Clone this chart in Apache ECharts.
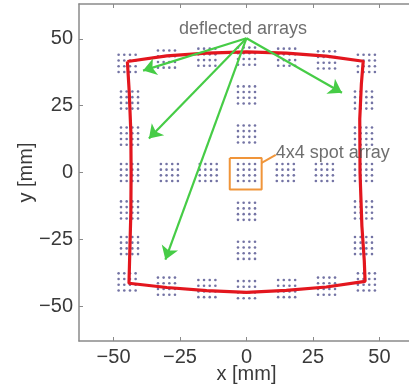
<!DOCTYPE html>
<html>
<head>
<meta charset="utf-8">
<script src="https://cdn.jsdelivr.net/npm/echarts@6/dist/echarts.min.js"></script>
<style>
  html, body { margin: 0; padding: 0; background: #fff; }
  #chart { width: 409px; height: 386px; }
</style>
</head>
<body>
<div id="chart"></div>
<script>
  // array centres [x, y] in mm
  const arrayCenters = [
    [-44.9, 40.8], [-30.1, 42.4], [-14.9, 43.1], [0, 43.5], [15.1, 43.1], [30.1, 42.1], [45.1, 40.8],
    [-44.0, 27.1], [-44.0, 13.6], [-44.0, 0], [-44.0, -14.0], [-44.0, -27.3],
    [44.0, 27.1], [44.0, 13.6], [44.0, 0], [44.0, -14.0], [44.0, -27.3],
    [0, 29.0], [0, 14.4], [0, 0], [0, -14.5], [0, -29.1],
    [-29.0, 0], [-14.4, 0], [14.6, 0], [29.3, 0],
    [-44.9, -40.9], [-30.1, -42.5], [-14.9, -43.4], [0, -43.8], [15.1, -43.4], [30.1, -42.5], [45.1, -40.9]
  ];
  // 4x4 spot offsets inside one array (mm)
  const spotOffsets = [-3.2, -1.07, 1.07, 3.2];

  // red outline through the outer spots
  const outline = [
    [-44.8, 41.5], [-30, 43.6], [-15, 44.6], [0, 45.1], [15, 44.6], [30, 43.5], [43.9, 41.6],
    [43.2, 33], [42.6, 20], [42.7, 0], [43.4, -20], [44.3, -33], [44.6, -40.7],
    [30, -42.8], [15, -44.1], [0, -44.8], [-15, -44.2], [-30, -43], [-44.2, -41.4],
    [-43.9, -30], [-43.5, -15], [-43.4, 0], [-43.5, 15], [-44.1, 30], [-44.8, 41.5]
  ];

  const arrowStart = [0, 50.2];
  const arrowEnds = [[-38.9, 38.1], [-36.7, 12.7], [-30.5, -32.6], [35.9, 29.8]];

  const spotBox = [[-6.3, 5.4], [5.7, 5.4], [5.7, -6.4], [-6.3, -6.4], [-6.3, 5.4]];
  const boxLeader = [[5.7, 3.6], [11.0, 6.6]];

  const tickValues = [-50, -25, 0, 25, 50];

  const spots = [];
  arrayCenters.forEach(function (c) {
    spotOffsets.forEach(function (dy) {
      spotOffsets.forEach(function (dx) {
        spots.push([c[0] + dx, c[1] + dy]);
      });
    });
  });

  const fmt = function (v) { return String(v).replace('-', '\u2212'); };
  const labelFont = { fontFamily: 'Liberation Sans, Arial, sans-serif', fontSize: 20, color: '#3a3a3a' };
  const axisLineStyle = { onZero: false, lineStyle: { color: '#8a8a8a', width: 1.5 } };

  const chart = echarts.init(document.getElementById('chart'));
  chart.setOption({
    animation: false,
    grid: { left: 79, top: 4, width: 335, height: 337, outerBoundsMode: 'none', containLabel: false },
    xAxis: [{
      type: 'value', min: -63, max: 63, position: 'bottom',
      name: 'x [mm]', nameLocation: 'middle', nameGap: 23, nameMoveOverlap: false,
      nameTextStyle: labelFont,
      axisLine: axisLineStyle,
      axisTick: { inside: true, length: 4, customValues: tickValues, lineStyle: { color: '#8a8a8a' } },
      axisLabel: Object.assign({ customValues: tickValues, formatter: fmt, margin: 6 }, labelFont),
      splitLine: { show: false }
    }, {
      type: 'value', min: -63, max: 63, position: 'top',
      axisLine: axisLineStyle,
      axisTick: { inside: true, length: 4, customValues: tickValues, lineStyle: { color: '#8a8a8a' } },
      axisLabel: { show: false },
      splitLine: { show: false }
    }],
    yAxis: {
      type: 'value', min: -63, max: 63, position: 'left',
      name: 'y [mm]', nameLocation: 'middle', nameGap: 43, nameRotate: 90, nameMoveOverlap: false,
      nameTextStyle: labelFont,
      axisLine: axisLineStyle,
      axisTick: { inside: true, length: 4, customValues: tickValues, lineStyle: { color: '#8a8a8a' } },
      axisLabel: Object.assign({ customValues: tickValues, formatter: fmt, margin: 6 }, labelFont),
      splitLine: { show: false }
    },
    series: [{
      type: 'scatter',
      data: spots,
      symbolSize: 2.6,
      itemStyle: { color: '#5a5a94', opacity: 0.85 },
      silent: true
    }, {
      type: 'line',
      data: outline,
      symbol: 'none',
      lineStyle: { color: '#e3161e', width: 3.2 },
      silent: true
    }, {
      type: 'line',
      data: spotBox,
      symbol: 'none',
      lineStyle: { color: '#f0953a', width: 2 },
      silent: true
    }, {
      type: 'line',
      data: boxLeader,
      symbol: 'none',
      lineStyle: { color: '#f0953a', width: 2 },
      silent: true
    }, {
      type: 'lines',
      coordinateSystem: 'cartesian2d',
      data: arrowEnds.map(function (e) { return { coords: [arrowStart, e] }; }),
      symbol: ['none', 'arrow'],
      symbolSize: [9, 13],
      lineStyle: { color: '#46cc46', width: 2.2, opacity: 1 },
      silent: true,
      z: 5
    }, {
      type: 'scatter',
      symbolSize: 0,
      data: [
        { value: [-1.3, 53.8], label: { show: true, formatter: 'deflected arrays', position: 'inside', align: 'center' } },
        { value: [11.0, 7.4], label: { show: true, formatter: '4x4 spot array', position: 'right', distance: 0, align: 'left' } }
      ],
      label: { fontFamily: 'Liberation Sans, Arial, sans-serif', fontSize: 18, color: '#4a4a4a' },
      silent: true,
      z: 6
    }]
  });
  window.addEventListener('resize', function () { chart.resize(); });
</script>
</body>
</html>
